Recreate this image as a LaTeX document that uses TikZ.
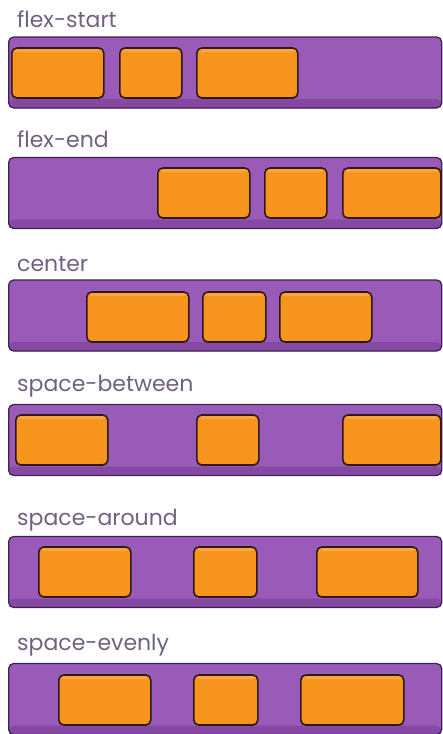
\documentclass[tikz,border=0pt]{standalone}
\usepackage{fontspec}
\setmainfont{Poppins}
\usepackage{tikz}
\definecolor{barpurple}{HTML}{9A5BB8}
\definecolor{bardark}{HTML}{8549A3}
\definecolor{barline}{HTML}{3E2150}
\definecolor{itemorange}{HTML}{F7941D}
\definecolor{itemlight}{HTML}{F9A63C}
\definecolor{itemline}{HTML}{2E1A14}
\definecolor{labelgray}{HTML}{716180}

\begin{document}
\begin{tikzpicture}[x=1pt, y=-1pt,
    bar/.style={draw=barline, line width=1.3pt, fill=barpurple, rounded corners=5pt,
        anchor=west, minimum width=433pt, minimum height=71pt, inner sep=0pt,
        path picture={\fill[bardark] ([yshift=9pt]path picture bounding box.south west)
            rectangle (path picture bounding box.south east);}},
    item/.style={draw=itemline, line width=1.6pt, fill=itemorange, rounded corners=5pt,
        anchor=west, minimum height=50pt, inner sep=0pt,
        path picture={\fill[itemlight] (path picture bounding box.north west)
            rectangle ([yshift=-4pt]path picture bounding box.north east);}},
    title/.style={anchor=base west, text=labelgray, inner sep=0pt,
        font=\fontsize{22}{22}\selectfont}]
    \useasboundingbox (0,0) rectangle (443,734);

    \node[title] (tstart) at (17,27) {flex-start};
    \node[bar] (bstart) at (8,72.5) {};
    \node[item, minimum width=92pt] (s1) at (11,73) {};
    \node[item, minimum width=62pt] (s2) at (119,73) {};
    \node[item, minimum width=101pt] (s3) at (196,73) {};

    \node[title] (tend) at (17,147) {flex-end};
    \node[bar] (bend) at (8,193) {};
    \node[item, minimum width=92pt] (e1) at (157,193) {};
    \node[item, minimum width=62pt] (e2) at (264,193) {};
    \node[item, minimum width=98pt] (e3) at (342,193) {};

    \node[title] (tcenter) at (17,271) {center};
    \node[bar] (bcenter) at (8,315.5) {};
    \node[item, minimum width=102pt] (c1) at (86,317) {};
    \node[item, minimum width=63pt] (c2) at (202,317) {};
    \node[item, minimum width=92pt] (c3) at (279,317) {};

    \node[title] (tbetween) at (17,391) {space-between};
    \node[bar] (bbetween) at (8,440) {};
    \node[item, minimum width=92pt] (w1) at (15,440) {};
    \node[item, minimum width=62pt] (w2) at (196,440) {};
    \node[item, minimum width=98pt] (w3) at (342,440) {};

    \node[title] (taround) at (17,525) {space-around};
    \node[bar] (baround) at (8,572) {};
    \node[item, minimum width=92pt] (a1) at (38,572) {};
    \node[item, minimum width=63pt] (a2) at (193,572) {};
    \node[item, minimum width=101pt] (a3) at (316,572) {};

    \node[title] (tevenly) at (17,650) {space-evenly};
    \node[bar] (bevenly) at (8,699) {};
    \node[item, minimum width=92pt] (v1) at (58,700) {};
    \node[item, minimum width=64pt] (v2) at (193,700) {};
    \node[item, minimum width=103pt] (v3) at (300,700) {};
\end{tikzpicture}
\end{document}
